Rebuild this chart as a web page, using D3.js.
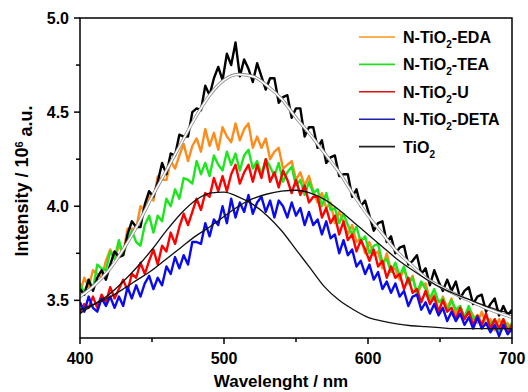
<!DOCTYPE html>
<html>
<head>
<meta charset="utf-8">
<script src="https://cdn.jsdelivr.net/npm/d3@7"></script>
<style>
  body { margin: 0; background: #fff; }
  svg text { font-family: Arial, "Liberation Sans", sans-serif; font-weight: bold; fill: #000; }
</style>
</head>
<body>
<div id="chart"></div>
<script>
// sampled every 3 nm, 400..700
const wavelengths = d3.range(400, 701, 3);
// fits sampled every 10 nm
const fitWavelengths = d3.range(400, 701, 10);

const edaValues = [3.54,3.62,3.57,3.66,3.64,3.62,3.71,3.77,3.72,3.79,3.75,3.88,3.88,3.88,4.00,3.98,4.06,4.03,4.16,4.14,
  4.14,4.24,4.20,4.27,4.33,4.24,4.32,4.36,4.29,4.41,4.32,4.39,4.30,4.42,4.37,4.34,4.44,4.35,4.41,4.44,
  4.31,4.37,4.31,4.36,4.25,4.29,4.31,4.20,4.22,4.24,4.14,4.18,4.11,4.16,4.08,4.02,4.07,3.99,4.02,3.91,
  3.97,3.92,3.85,3.90,3.81,3.83,3.75,3.81,3.74,3.76,3.67,3.75,3.66,3.67,3.61,3.67,3.59,3.63,3.53,3.58,
  3.59,3.50,3.53,3.43,3.52,3.46,3.51,3.43,3.47,3.40,3.46,3.42,3.38,3.44,3.37,3.40,3.34,3.40,3.36,3.38,3.33];

const teaValues = [3.59,3.54,3.61,3.56,3.69,3.67,3.66,3.76,3.72,3.82,3.74,3.82,3.87,3.81,3.79,3.90,3.95,3.86,3.95,3.92,
  4.04,4.00,4.09,4.04,4.15,4.14,4.12,4.24,4.17,4.23,4.16,4.27,4.22,4.19,4.29,4.22,4.28,4.19,4.27,4.30,
  4.20,4.24,4.17,4.25,4.21,4.16,4.23,4.13,4.18,4.21,4.11,4.14,4.06,4.13,4.07,4.09,4.00,4.07,3.98,3.99,
  3.91,3.96,3.90,3.85,3.89,3.81,3.84,3.75,3.79,3.80,3.70,3.72,3.65,3.70,3.63,3.68,3.59,3.62,3.54,3.60,
  3.56,3.51,3.56,3.49,3.51,3.44,3.50,3.45,3.47,3.41,3.47,3.40,3.42,3.37,3.42,3.37,3.40,3.34,3.40,3.35,3.38];

const uValues = [3.43,3.48,3.46,3.52,3.46,3.53,3.49,3.57,3.51,3.56,3.61,3.55,3.64,3.62,3.70,3.64,3.71,3.77,3.69,3.79,
  3.76,3.86,3.80,3.89,3.96,3.90,3.97,4.04,3.98,4.07,4.05,4.15,4.08,4.16,4.08,4.17,4.22,4.12,4.18,4.22,
  4.13,4.22,4.15,4.25,4.13,4.18,4.10,4.19,4.14,4.07,4.14,4.06,4.11,4.02,4.05,4.05,3.94,3.99,3.91,3.95,
  3.85,3.92,3.82,3.85,3.76,3.82,3.77,3.71,3.77,3.68,3.71,3.62,3.68,3.62,3.64,3.56,3.62,3.54,3.56,3.49,
  3.55,3.48,3.52,3.44,3.50,3.44,3.46,3.40,3.46,3.40,3.44,3.37,3.42,3.37,3.43,3.35,3.40,3.35,3.40,3.33,3.37];

const detaValues = [3.49,3.44,3.52,3.46,3.44,3.51,3.47,3.52,3.46,3.52,3.47,3.57,3.51,3.58,3.52,3.59,3.63,3.56,3.62,3.58,
  3.68,3.64,3.73,3.67,3.74,3.69,3.81,3.81,3.80,3.91,3.84,3.93,3.90,4.00,3.91,4.04,3.94,4.02,3.97,4.06,
  3.96,4.02,4.05,3.97,4.03,3.94,4.03,4.00,3.94,4.02,3.95,3.99,3.90,3.97,3.90,3.93,3.85,3.92,3.83,3.85,
  3.75,3.82,3.74,3.77,3.68,3.71,3.64,3.69,3.61,3.65,3.56,3.60,3.54,3.59,3.52,3.55,3.47,3.52,3.53,3.45,
  3.49,3.43,3.48,3.42,3.46,3.39,3.44,3.39,3.43,3.37,3.41,3.35,3.41,3.35,3.38,3.33,3.37,3.31,3.37,3.32,3.35];

const tio2Values = [3.56,3.53,3.61,3.55,3.62,3.66,3.61,3.69,3.76,3.73,3.74,3.85,3.92,3.89,3.89,4.01,4.08,4.05,4.13,4.23,
  4.17,4.28,4.27,4.38,4.37,4.37,4.50,4.52,4.51,4.64,4.59,4.68,4.74,4.67,4.81,4.75,4.87,4.69,4.78,4.73,
  4.66,4.76,4.69,4.62,4.68,4.68,4.55,4.58,4.59,4.47,4.52,4.52,4.37,4.42,4.42,4.31,4.35,4.23,4.26,4.27,
  4.16,4.17,4.17,4.05,4.09,4.00,4.03,3.95,3.87,3.91,3.92,3.81,3.84,3.75,3.78,3.79,3.69,3.71,3.74,3.64,
  3.67,3.58,3.66,3.60,3.55,3.61,3.55,3.60,3.51,3.55,3.57,3.48,3.52,3.53,3.44,3.48,3.51,3.42,3.47,3.42,3.45];

// smooth fits
const tio2Fit = [3.52,3.58,3.66,3.77,3.90,4.05,4.19,4.33,4.47,4.59,4.67,4.70,4.69,4.64,4.57,4.47,
  4.38,4.28,4.18,4.06,3.95,3.855,3.76,3.69,3.62,3.575,3.535,3.50,3.465,3.435,3.41];
const fitNarrow = [3.43,3.48,3.53,3.60,3.68,3.77,3.87,3.96,4.03,4.07,4.075,4.05,4.01,3.95,3.87,3.77,
  3.67,3.57,3.50,3.45,3.41,3.39,3.375,3.365,3.36,3.355,3.35,3.35,3.35,3.35,3.35];
const fitBroad = [3.45,3.48,3.515,3.56,3.61,3.66,3.72,3.78,3.84,3.89,3.945,4.00,4.04,4.065,4.08,4.085,
  4.07,4.035,3.98,3.915,3.85,3.785,3.72,3.665,3.615,3.57,3.535,3.505,3.475,3.45,3.43];

const xTicks = [400, 500, 600, 700];
const xMinor = [450, 550, 650];
const yTicks = [3.5, 4.0, 4.5, 5.0];
const yMinor = [3.75, 4.25, 4.75];

const series = [
  { name: 'EDA', values: edaValues, color: '#ff8c1a' },
  { name: 'TEA', values: teaValues, color: '#1ee61e' },
  { name: 'U', values: uValues, color: '#ff0000' },
  { name: 'DETA', values: detaValues, color: '#0a0af0' },
  { name: 'TiO2', values: tio2Values, color: '#000000' }
];

const legendItems = [
  { pre: 'N-TiO', post: '-EDA', color: '#f7941d' },
  { pre: 'N-TiO', post: '-TEA', color: '#22dd22' },
  { pre: 'N-TiO', post: '-U', color: '#e01010' },
  { pre: 'N-TiO', post: '-DETA', color: '#2020b0' },
  { pre: 'TiO', post: '', color: '#222222' }
];

const W = 528, H = 392;
const margin = { top: 18, right: 16, bottom: 54, left: 80 };
const width = W - margin.left - margin.right;
const height = H - margin.top - margin.bottom;

const svg = d3.select('#chart').append('svg')
  .attr('width', W)
  .attr('height', H);

const g = svg.append('g')
  .attr('transform', 'translate(' + margin.left + ',' + margin.top + ')');

const x = d3.scaleLinear().domain([400, 700]).range([0, width]);
const y = d3.scaleLinear().domain([3.3, 5.0]).range([height, 0]);

g.append('clipPath').attr('id', 'clip')
  .append('rect').attr('width', width).attr('height', height);

const plot = g.append('g').attr('clip-path', 'url(#clip)');

// noisy spectra
const line = d3.line()
  .x((d, i) => x(wavelengths[i]))
  .y(d => y(d));

series.forEach(s => {
  plot.append('path')
    .datum(s.values)
    .attr('fill', 'none')
    .attr('stroke', s.color)
    .attr('stroke-width', 2.4)
    .attr('stroke-linejoin', 'round')
    .attr('d', line);
});

// fits
const fitLine = d3.line()
  .x((d, i) => x(fitWavelengths[i]))
  .y(d => y(d))
  .curve(d3.curveMonotoneX);

plot.append('path').datum(tio2Fit)
  .attr('fill', 'none').attr('stroke', '#8a8a8a').attr('stroke-width', 3.2)
  .attr('d', fitLine);
plot.append('path').datum(tio2Fit)
  .attr('fill', 'none').attr('stroke', '#ffffff').attr('stroke-width', 1.6)
  .attr('d', fitLine);

[fitNarrow, fitBroad].forEach(f => {
  plot.append('path').datum(f)
    .attr('fill', 'none').attr('stroke', '#111').attr('stroke-width', 1.3)
    .attr('d', fitLine);
});

// frame
g.append('rect')
  .attr('width', width).attr('height', height)
  .attr('fill', 'none').attr('stroke', '#000').attr('stroke-width', 1.5);

// x axis
const xAxis = g.append('g').attr('transform', 'translate(0,' + height + ')');
xAxis.selectAll('.maj').data(xTicks).enter().append('line')
  .attr('x1', d => x(d)).attr('x2', d => x(d))
  .attr('y1', 0).attr('y2', 6)
  .attr('stroke', '#000').attr('stroke-width', 1.5);
xAxis.selectAll('.min').data(xMinor).enter().append('line')
  .attr('x1', d => x(d)).attr('x2', d => x(d))
  .attr('y1', 0).attr('y2', 4)
  .attr('stroke', '#000').attr('stroke-width', 1.5);
xAxis.selectAll('text').data(xTicks).enter().append('text')
  .attr('x', d => x(d)).attr('y', 26)
  .attr('text-anchor', 'middle')
  .style('font-size', '16px')
  .text(d => d);

// y axis
const yAxis = g.append('g');
yAxis.selectAll('.maj').data(yTicks).enter().append('line')
  .attr('x1', 0).attr('x2', -6)
  .attr('y1', d => y(d)).attr('y2', d => y(d))
  .attr('stroke', '#000').attr('stroke-width', 1.5);
yAxis.selectAll('.min').data(yMinor).enter().append('line')
  .attr('x1', 0).attr('x2', -4)
  .attr('y1', d => y(d)).attr('y2', d => y(d))
  .attr('stroke', '#000').attr('stroke-width', 1.5);
yAxis.selectAll('text').data(yTicks).enter().append('text')
  .attr('x', -11).attr('y', d => y(d))
  .attr('dy', '0.36em')
  .attr('text-anchor', 'end')
  .style('font-size', '16px')
  .text(d => d3.format('.1f')(d));

// axis titles
svg.append('text')
  .attr('x', 281).attr('y', 387)
  .attr('text-anchor', 'middle')
  .style('font-size', '17px')
  .text('Wavelenght / nm');

const yTitle = svg.append('text')
  .attr('transform', 'translate(28,181) rotate(-90)')
  .attr('text-anchor', 'middle')
  .style('font-size', '18px');
yTitle.append('tspan').text('Intensity / 10');
yTitle.append('tspan').attr('dy', '-0.5em').style('font-size', '11px').text('6');
yTitle.append('tspan').attr('dy', '0.5em').text(' a.u.');

// legend
const legend = svg.append('g').attr('transform', 'translate(359,37)');
legendItems.forEach((d, i) => {
  const row = legend.append('g').attr('transform', 'translate(0,' + (i * 27.4) + ')');
  row.append('line')
    .attr('x1', 0).attr('x2', 36).attr('y1', 0).attr('y2', 0)
    .attr('stroke', d.color).attr('stroke-width', 1.6);
  const t = row.append('text').attr('x', 44).attr('y', 6).style('font-size', '16px');
  t.append('tspan').text(d.pre);
  t.append('tspan').attr('dy', 5).style('font-size', '10px').text('2');
  if (d.post) t.append('tspan').attr('dy', -5).text(d.post);
});
</script>
</body>
</html>
